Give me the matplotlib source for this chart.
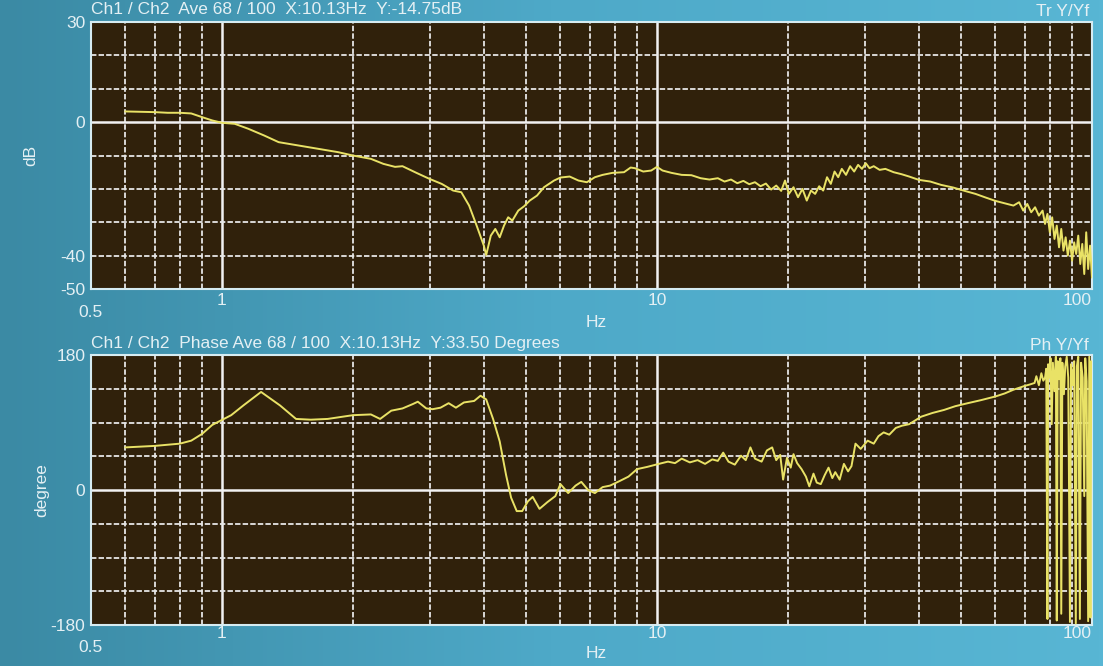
#!/usr/bin/env python3
import numpy as np
import matplotlib.pyplot as plt
from matplotlib.colors import LinearSegmentedColormap

# magnitude trace (Hz, dB)
mag_freq = [0.6, 0.7, 0.75, 0.8, 0.85, 0.9, 0.95, 1.0, 1.07, 1.15, 1.25, 1.35, 1.5, 1.7,
            1.85, 2.0, 2.2, 2.35, 2.5, 2.6, 2.8, 3.0, 3.2, 3.4, 3.55, 3.7, 3.85, 4.0,
            4.05, 4.15, 4.25, 4.35, 4.45, 4.55, 4.65, 4.8, 4.95, 5.1, 5.3, 5.5, 5.8, 6.0,
            6.3, 6.6, 6.9, 7.2, 7.5, 7.9, 8.4, 8.7, 8.9, 9.3, 9.7, 10.0, 10.3, 10.8,
            11.4, 12.0, 12.6, 13.2, 13.8, 14.3, 14.8, 15.3, 15.8, 16.3, 16.8, 17.3,
            17.8, 18.3, 18.8, 19.3, 19.7, 20.1, 20.6, 21.1, 21.6, 22.1, 22.6, 23.1,
            23.6, 24.1, 24.6, 25.1, 25.6, 26.1, 26.6, 27.2, 27.8, 28.4, 29.0, 29.6,
            30.2, 30.8, 31.5, 32.5, 33.5, 35.0, 36.5, 38.0, 40.0, 42.5, 45.0, 48.0,
            51.0, 54.0, 57.0, 60.0, 63.0, 66.0, 68.0, 69.5, 71.0, 72.5, 74.0, 75.5,
            77.0, 78.0, 79.0, 80.0, 81.0, 82.0, 83.0, 84.0, 85.0, 86.0, 87.0, 88.0,
            89.0, 90.0, 91.0, 92.0, 93.0, 94.0, 95.0, 96.0, 97.0, 98.0, 99.0, 100.0]
mag_db = [3.2, 3.0, 2.8, 2.8, 2.6, 1.5, 0.5, -0.2, -0.5, -2.0, -4.0, -6.0, -7.0, -8.2,
          -9.0, -10.0, -11.0, -12.5, -13.4, -13.2, -15.2, -17.0, -18.5, -20.5, -21.0, -25.0, -31.0, -37.0,
          -39.8, -34.0, -32.0, -34.5, -31.0, -28.5, -29.5, -26.5, -25.2, -23.5, -22.0, -19.5, -17.5, -16.6,
          -16.3, -17.5, -18.0, -16.5, -15.8, -15.2, -15.0, -13.6, -13.8, -14.8, -14.5, -13.4, -14.5, -15.2,
          -15.8, -15.9, -16.8, -17.2, -16.8, -17.8, -17.2, -18.3, -17.6, -18.6, -18.0, -19.2,
          -18.4, -20.2, -19.0, -20.6, -17.5, -21.5, -19.5, -22.5, -20.0, -23.5, -20.5, -21.5,
          -19.2, -20.5, -16.5, -18.5, -14.8, -16.5, -14.0, -15.8, -13.2, -14.8, -12.8, -14.0,
          -12.3, -13.8, -13.2, -14.3, -14.0, -15.0, -15.6, -16.3, -17.3, -17.8, -18.8, -19.6,
          -20.6, -21.5, -22.6, -23.6, -24.3, -25.0, -24.0, -26.5, -24.5, -27.0, -25.5, -28.0,
          -26.5, -30.5, -27.5, -33.0, -28.5, -35.0, -31.0, -37.5, -32.0, -38.5, -34.5, -40.0,
          -35.5, -41.5, -36.0, -39.5, -34.0, -42.5, -36.5, -45.5, -33.0, -44.0, -37.0, -46.5]

# phase trace (Hz, degrees)
ph_freq = [0.6, 0.7, 0.8, 0.85, 0.9, 0.95, 1.05, 1.12, 1.23, 1.36, 1.48, 1.6, 1.75, 2.0,
           2.2, 2.31, 2.45, 2.6, 2.75, 2.82, 2.95, 3.05, 3.18, 3.32, 3.45, 3.6, 3.8, 3.93,
           4.05, 4.2, 4.35, 4.5, 4.62, 4.76, 4.9, 5.05, 5.18, 5.37, 5.6, 5.84, 6.0, 6.25,
           6.5, 6.7, 6.95, 7.2, 7.5, 7.8, 8.2, 8.6, 9.0, 9.5, 10.1, 10.6, 11.0, 11.4,
           11.9, 12.4, 12.9, 13.4, 13.8, 14.2, 14.6, 15.1, 15.6, 16.0, 16.4, 16.8, 17.4,
           17.9, 18.4, 18.8, 19.2, 19.5, 19.9, 20.3, 20.6, 21.0, 21.5, 22.0, 22.4, 22.9,
           23.3, 23.8, 24.3, 24.8, 25.3, 25.7, 26.3, 26.9, 27.5, 28.0, 28.6, 29.4, 30.5,
           31.5, 32.3, 33.2, 34.2, 35.4, 36.6, 38.0, 40.5, 43.0, 45.7, 48.5, 51.8, 55.5,
           60.0, 63.0, 66.0, 70.0, 72.0, 73.8, 74.5, 75.5, 76.5, 77.3, 78.0, 78.5, 79.0,
           79.3, 79.8, 80.3, 80.8, 81.3, 82.0, 82.6, 83.0, 83.4, 84.0, 84.6, 85.0, 85.5,
           86.2, 86.8, 87.5, 88.2, 89.0, 89.5, 90.2, 91.0, 91.8, 92.3, 93.0, 93.8, 94.4,
           95.2, 96.0, 96.5, 97.2, 98.0, 98.6, 99.2, 99.6, 100.0]
ph_deg = [57, 59, 62, 66, 75, 87, 100, 113, 131, 113, 95, 94, 95, 100,
          101, 95, 106, 109, 115, 118, 109, 108, 110, 116, 110, 117, 119, 126,
          121, 95, 65, 20, -10, -28, -28, -15, -9, -25, -16, -8, 8, -4,
          6, 11, 0, -4, 4, 6, 12, 18, 28, 31, 35, 38, 36, 42,
          37, 40, 35, 41, 39, 50, 38, 34, 46, 40, 57, 42, 38,
          53, 57, 40, 47, 14, 43, 30, 48, 36, 28, 18, 5, 22,
          10, 8, 20, 30, 16, 24, 14, 35, 25, 32, 62, 55, 66,
          62, 72, 77, 74, 83, 86, 88, 98, 103, 107, 112, 116, 120,
          125, 129, 134, 139, 141, 143, 152, 140, 156, 146, 150, 162, -172,
          168, 150, 176, 88, 170, 132, 178, -174, 172, 148, 176, -165, 170,
          128, 165, 178, 150, -176, 168, 140, 172, -178, 165, 178, -172, 170,
          150, -8, 176, 145, -175, 178, -170, 172, 165]

mag_ticks = [30, 0, -40, -50]
ph_ticks = [180, 0, -180]
x_ticks = [1, 10, 100]
x_ticklabels = ["1", "10", "100"]

BG = "#4aa4c4"
PANEL = "#30210b"
TXT = "#e4f0f4"
TRACE = "#e9e266"
FS = 12.5
plt.rcParams["font.family"] = ["Liberation Sans", "DejaVu Sans"]

fig = plt.figure(figsize=(11.03, 6.66), dpi=100)
fig.patch.set_facecolor(BG)

# soft left-to-right shading of the screen photo
bg = fig.add_axes([0, 0, 1, 1], zorder=-10)
grad = np.linspace(0, 1, 256).reshape(1, -1)
cm = LinearSegmentedColormap.from_list("scr", ["#3b8aa4", "#4ea9c8", "#58b6d4"])
bg.imshow(grad, aspect="auto", cmap=cm, extent=[0, 1, 0, 1])
bg.axis("off")


def setup(ax, ylim, ystep, yticks, title, tag, ylabel, ylabel_x, hpx, lab_pad, half_off, hz_off):
    ax.set_facecolor(PANEL)
    ax.set_xscale("log")
    ax.set_xlim(0.5, 100)
    ax.set_ylim(*ylim)
    grid_kw = dict(color="#e6e6e6", lw=1.3, ls=(0, (3, 1.2)), zorder=1)
    for d in [1, 10]:
        for m in range(2, 10):
            ax.axvline(d * m, **grid_kw)
    for f in [0.6, 0.7, 0.8, 0.9]:
        ax.axvline(f, **grid_kw)
    for f in [1, 10]:
        ax.axvline(f, color="#f2f2f2", lw=1.8, zorder=1)
    for yv in np.arange(ylim[0] + ystep, ylim[1], ystep):
        if yv == 0:
            ax.axhline(yv, color="#f2f2f2", lw=1.8, zorder=1)
        else:
            ax.axhline(yv, **grid_kw)
    for s in ax.spines.values():
        s.set_color("#d6ecf2")
        s.set_linewidth(1.5)
    ax.set_yticks(yticks)
    ax.set_yticklabels([str(v) for v in yticks])
    ax.set_xticks(x_ticks)
    ax.set_xticklabels(x_ticklabels)
    ax.minorticks_off()
    ax.tick_params(axis="y", length=0, colors=TXT, labelsize=FS, pad=4)
    ax.tick_params(axis="x", length=0, colors=TXT, labelsize=FS, pad=lab_pad)
    ax.get_xticklabels()[-1].set_horizontalalignment("right")
    ax.text(0.0, -half_off / hpx, "0.5", transform=ax.transAxes, ha="center", va="center",
            color=TXT, fontsize=FS)
    ax.text(0.505, -hz_off / hpx, "Hz", transform=ax.transAxes, ha="center", va="center",
            color=TXT, fontsize=FS)
    ax.text(0.0, 1 + 12 / hpx, title, transform=ax.transAxes, ha="left", va="center",
            color=TXT, fontsize=FS)
    ax.text(0.997, 1 + 10 / hpx, tag, transform=ax.transAxes, ha="right", va="center",
            color=TXT, fontsize=FS)
    fig.text(ylabel_x, ax.get_position().y0 + ax.get_position().height / 2, ylabel,
             rotation=90, ha="center", va="center", color=TXT, fontsize=FS)


ax1 = fig.add_axes([0.0825, 0.566, 0.9075, 0.401])
setup(ax1, (-50, 30), 10, mag_ticks,
      "Ch1 / Ch2  Ave 68 / 100  X:10.13Hz  Y:-14.75dB", "Tr Y/Yf", "dB", 0.028,
      267, 3, 23, 33)
ax1.plot(mag_freq, mag_db, color=TRACE, lw=1.4, zorder=3)

ax2 = fig.add_axes([0.0825, 0.0616, 0.9075, 0.405])
setup(ax2, (-180, 180), 45, ph_ticks,
      "Ch1 / Ch2  Phase Ave 68 / 100  X:10.13Hz  Y:33.50 Degrees", "Ph Y/Yf", "degree", 0.038,
      270, 1, 23, 29)
ax2.plot(ph_freq, ph_deg, color=TRACE, lw=1.4, zorder=3)

plt.savefig("out.png", dpi=100, facecolor=fig.get_facecolor())
